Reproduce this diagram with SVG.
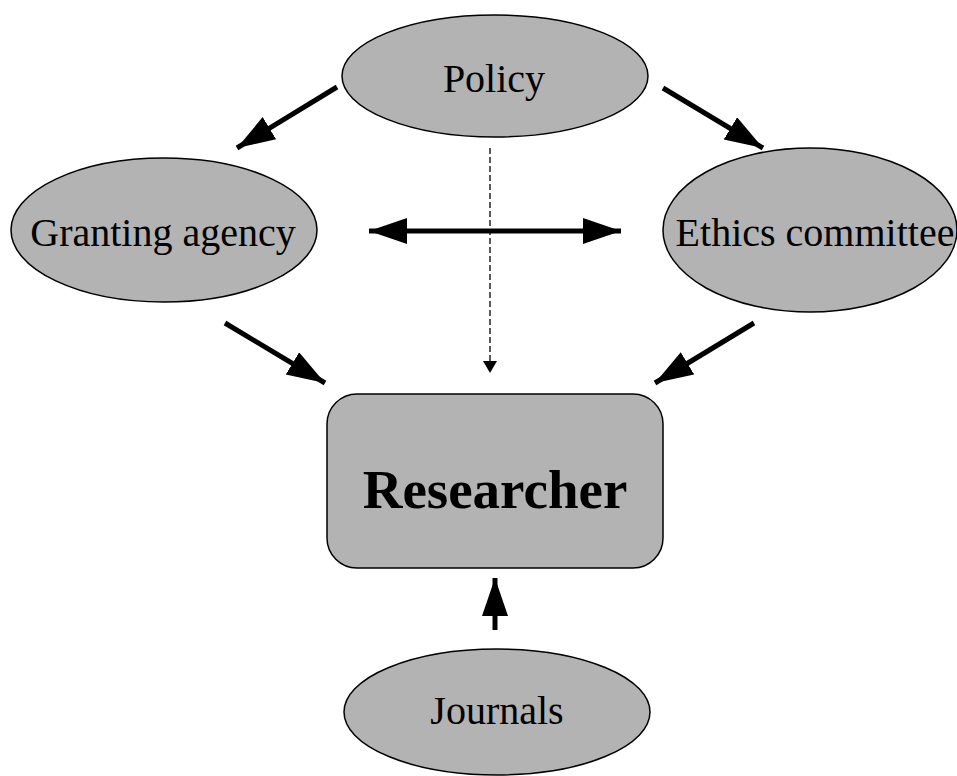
<svg xmlns="http://www.w3.org/2000/svg" width="957" height="776" viewBox="0 0 957 776">
  <style>
    .node { fill: #b3b3b3; stroke: #000; stroke-width: 1.5; }
    .label { font-family: "Liberation Serif", "Times New Roman", serif; font-size: 40px; fill: #000; text-anchor: middle; }
    .big { font-size: 55px; font-weight: bold; }
    .conn { stroke: #000; stroke-width: 5; fill: none; }
    .dash { stroke: #000; stroke-width: 1.3; stroke-dasharray: 6 3; fill: none; }
  </style>
  <defs>
    <marker id="ah" markerUnits="userSpaceOnUse" markerWidth="40" markerHeight="28" refX="38" refY="13" orient="auto-start-reverse">
      <path d="M0,0 L38,13 L0,26 z" fill="#000"/>
    </marker>
    <marker id="ahs" markerUnits="userSpaceOnUse" markerWidth="14" markerHeight="16" refX="12" refY="7" orient="auto">
      <path d="M0,0 L12,7 L0,14 z" fill="#000"/>
    </marker>
  </defs>
  <rect width="957" height="776" fill="#fff"/>
  <g id="connectors">
    <line class="conn" x1="337" y1="87" x2="237" y2="148" marker-end="url(#ah)"/>
    <line class="conn" x1="663" y1="88" x2="763" y2="148" marker-end="url(#ah)"/>
    <line class="conn" x1="369" y1="231" x2="621" y2="231" marker-start="url(#ah)" marker-end="url(#ah)"/>
    <line class="dash" x1="490" y1="148" x2="490" y2="373" marker-end="url(#ahs)"/>
    <line class="conn" x1="225" y1="323" x2="325" y2="383" marker-end="url(#ah)"/>
    <line class="conn" x1="754" y1="323" x2="655" y2="383" marker-end="url(#ah)"/>
    <line class="conn" x1="495" y1="630" x2="495" y2="578" marker-end="url(#ah)"/>
  </g>
  <g id="policy">
    <ellipse class="node" cx="495" cy="76" rx="153" ry="61"/>
    <text class="label" x="494" y="92">Policy</text>
  </g>
  <g id="granting-agency">
    <ellipse class="node" cx="164" cy="230" rx="153" ry="72"/>
    <text class="label" x="163" y="246">Granting agency</text>
  </g>
  <g id="ethics-committee">
    <ellipse class="node" cx="810" cy="230" rx="147" ry="82"/>
    <text class="label" x="815" y="246">Ethics committee</text>
  </g>
  <g id="researcher">
    <rect class="node" x="327" y="394" width="336" height="174" rx="30" ry="30"/>
    <text class="label big" x="495" y="508">Researcher</text>
  </g>
  <g id="journals">
    <ellipse class="node" cx="497" cy="712" rx="153" ry="63"/>
    <text class="label" x="497" y="724">Journals</text>
  </g>
</svg>
